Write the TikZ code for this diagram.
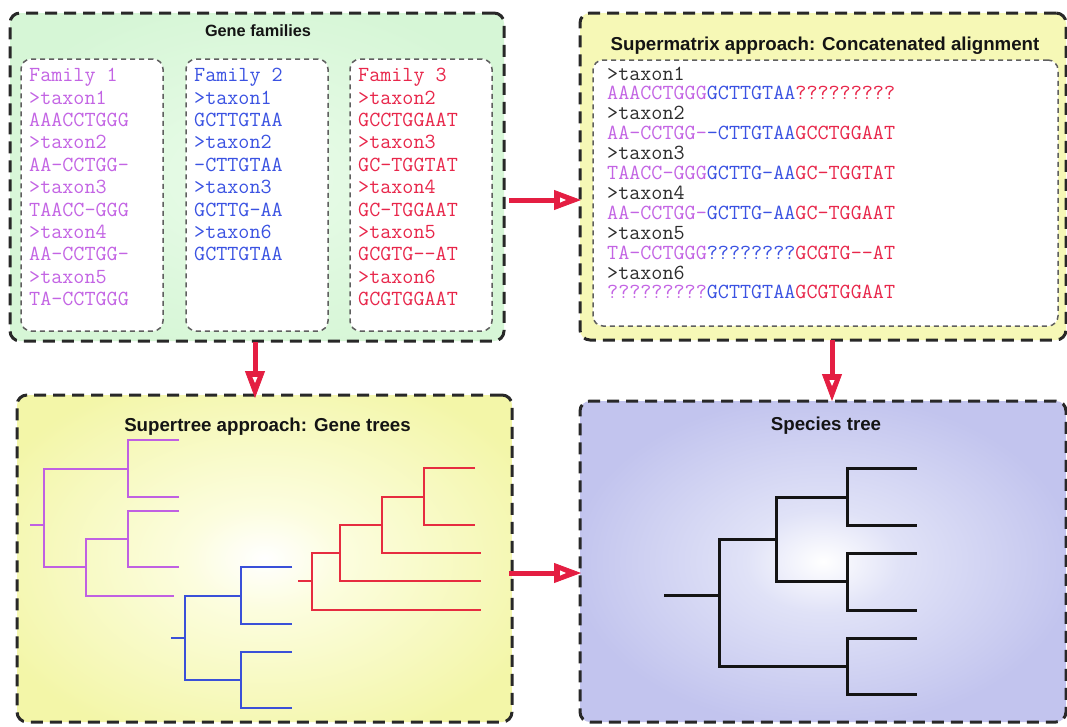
\documentclass[tikz,border=0pt]{standalone}
\usepackage{fontspec}
\newfontfamily\hel{Liberation Sans}
\usetikzlibrary{arrows.meta,decorations.markings}
\definecolor{purp}{RGB}{195,100,228}
\definecolor{blu}{RGB}{58,82,226}
\definecolor{redc}{RGB}{232,38,74}
\definecolor{purT}{RGB}{192,96,226}
\definecolor{bluT}{RGB}{58,80,216}
\definecolor{redT}{RGB}{230,44,64}
\definecolor{arrred}{RGB}{228,30,66}
\definecolor{dashc}{RGB}{40,40,40}
\definecolor{indash}{RGB}{95,95,95}
\definecolor{hdr}{RGB}{45,45,45}
\definecolor{gEdge}{RGB}{214,246,214}
\definecolor{gMid}{RGB}{234,252,234}
\definecolor{yEdge}{RGB}{243,246,168}
\definecolor{yMid}{RGB}{252,253,222}
\definecolor{ySm}{RGB}{246,248,182}
\definecolor{bEdge}{RGB}{194,196,238}
\definecolor{bMid}{RGB}{224,226,247}
\definecolor{bCorner}{RGB}{210,213,244}
\pgfdeclareradialshading{greensh}{\pgfpoint{0bp}{0bp}}{color(0bp)=(gMid);color(28bp)=(gEdge);color(50bp)=(gEdge)}
\pgfdeclareradialshading{yellowsh}{\pgfpoint{0bp}{0bp}}{color(0bp)=(white);color(8bp)=(yMid);color(30bp)=(yEdge);color(50bp)=(yEdge)}
\pgfdeclareradialshading{bluesh}{\pgfpoint{0bp}{0bp}}{color(0bp)=(white);color(8bp)=(bMid);color(26bp)=(bEdge);color(42bp)=(bEdge);color(55bp)=(bCorner)}
\tikzset{
  outerbox/.style={draw=dashc, line width=3pt, dash pattern=on 12pt off 7pt,
    rounded corners=10pt, inner sep=0pt, outer sep=0pt},
  innerbox/.style={draw=indash, line width=1.5pt, dash pattern=on 5pt off 4pt,
    rounded corners=10pt, fill=white, inner sep=0pt, outer sep=0pt},
  seq/.style={font=\ttfamily\addfontfeatures{FakeBold=1.2}\fontsize{21.5pt}{22pt}\selectfont, anchor=base west, inner sep=0pt},
  ttl/.style={font=\hel\bfseries\fontsize{18.7pt}{20pt}\selectfont, text=black!92, anchor=base, inner sep=0pt},
  arr/.style={draw=arrred, line width=5pt,
    -{Triangle[length=27pt,width=20pt,line width=0.8pt]},
    decoration={markings, mark=at position 1 with {\fill[white] (-21,-2.6) -- (-21,2.6) -- (-15,0) -- cycle;}},
    postaction={decorate}},
  gtree/.style={line width=1.3pt},
  sptree/.style={line width=3pt, draw=black!92}
}
\begin{document}
\begin{tikzpicture}[x=1pt,y=-1pt]
\useasboundingbox (0,0) rectangle (1067,726);
\fill[white] (0,0) rectangle (1067,726);

% ---------- boxes ----------
\node[outerbox, shading=greensh, minimum width=494pt, minimum height=328pt] (gene) at (257,177) {};
\node[outerbox, fill=ySm, minimum width=486pt, minimum height=327pt] (smx) at (823,176.5) {};
\node[outerbox, shading=yellowsh, minimum width=495pt, minimum height=327pt] (stree) at (264.5,558.5) {};
\node[outerbox, shading=bluesh, minimum width=486pt, minimum height=321pt] (species) at (823,561.5) {};

\node[innerbox, minimum width=142pt, minimum height=272pt] (f1) at (92,195) {};
\node[innerbox, minimum width=142pt, minimum height=272pt] (f2) at (257,195) {};
\node[innerbox, minimum width=142pt, minimum height=272pt] (f3) at (421,195) {};
\node[innerbox, minimum width=465pt, minimum height=266pt] (smin) at (825.5,193) {};

% ---------- titles ----------
\node[ttl, font=\hel\bfseries\fontsize{16.3pt}{18pt}\selectfont] (tgene) at (258,36.7) {Gene families};
\node[ttl] (tsmx) at (825,50) {Supermatrix approach: Concatenated alignment};
\node[ttl] (tstree) at (267.5,431.5) {Supertree approach: Gene trees};
\node[ttl] (tspecies) at (826,430.5) {Species tree};

% ---------- gene families ----------
\foreach \t [count=\i from 0] in {Family 1, >taxon1, AAACCTGGG, >taxon2, AA-CCTGG-, >taxon3, TAACC-GGG, >taxon4, AA-CCTGG-, >taxon5, TA-CCTGGG}
  \node[seq, text=purp] (fa-\i) at (29,81.7+22.4*\i) {\t};
\foreach \t [count=\i from 0] in {Family 2, >taxon1, GCTTGTAA, >taxon2, -CTTGTAA, >taxon3, GCTTG-AA, >taxon6, GCTTGTAA}
  \node[seq, text=blu] (fb-\i) at (194,81.7+22.4*\i) {\t};
\foreach \t [count=\i from 0] in {Family 3, >taxon2, GCCTGGAAT, >taxon3, GC-TGGTAT, >taxon4, GC-TGGAAT, >taxon5, GCGTG-{}-AT, >taxon6, GCGTGGAAT}
  \node[seq, text=redc] (fc-\i) at (358,81.7+22.4*\i) {\t};

% ---------- supermatrix ----------
\node[seq, text=hdr] (sm1) at (607,80) {>taxon1};
\node[seq] (sm2) at (607,99.9) {\textcolor{purp}{AAACCTGGG}\textcolor{blu}{GCTTGTAA}\textcolor{redc}{?????????}};
\node[seq, text=hdr] (sm3) at (607,119.8) {>taxon2};
\node[seq] (sm4) at (607,139.7) {\textcolor{purp}{AA-CCTGG-}\textcolor{blu}{-CTTGTAA}\textcolor{redc}{GCCTGGAAT}};
\node[seq, text=hdr] (sm5) at (607,159.6) {>taxon3};
\node[seq] (sm6) at (607,179.5) {\textcolor{purp}{TAACC-GGG}\textcolor{blu}{GCTTG-AA}\textcolor{redc}{GC-TGGTAT}};
\node[seq, text=hdr] (sm7) at (607,199.4) {>taxon4};
\node[seq] (sm8) at (607,219.3) {\textcolor{purp}{AA-CCTGG-}\textcolor{blu}{GCTTG-AA}\textcolor{redc}{GC-TGGAAT}};
\node[seq, text=hdr] (sm9) at (607,239.2) {>taxon5};
\node[seq] (sm10) at (607,259.1) {\textcolor{purp}{TA-CCTGGG}\textcolor{blu}{????????}\textcolor{redc}{GCGTG-{}-AT}};
\node[seq, text=hdr] (sm11) at (607,279) {>taxon6};
\node[seq] (sm12) at (607,298.9) {\textcolor{purp}{?????????}\textcolor{blu}{GCTTGTAA}\textcolor{redc}{GCGTGGAAT}};

% ---------- gene trees ----------
\draw[gtree, purT] (179,440) -| (128,497) -- (179,497);
\draw[gtree, purT] (179,511) -| (128,567) -- (179,567);
\draw[gtree, purT] (128,469) -| (44,567) -- (86,567);
\draw[gtree, purT] (128,539) -| (86,596) -- (174,596);
\draw[gtree, purT] (30,525) -- (44,525);

\draw[gtree, bluT] (292,567) -| (241,624) -- (292,624);
\draw[gtree, bluT] (292,652) -| (241,708) -- (292,708);
\draw[gtree, bluT] (241,596) -| (185,680) -- (241,680);
\draw[gtree, bluT] (171,638) -- (185,638);

\draw[gtree, redT] (475,468) -| (424,525) -- (475,525);
\draw[gtree, redT] (424,497) -| (382,553) -- (481,553);
\draw[gtree, redT] (382,525) -| (340,581) -- (481,581);
\draw[gtree, redT] (340,553) -| (312,610) -- (481,610);
\draw[gtree, redT] (298,581) -- (312,581);

% ---------- species tree ----------
\draw[sptree] (917,468) -| (847,525) -- (917,525);
\draw[sptree] (917,553) -| (847,610) -- (917,610);
\draw[sptree] (917,638) -| (847,694) -- (917,694);
\draw[sptree] (847,497) -| (776,581) -- (847,581);
\draw[sptree] (776,539) -| (719,666) -- (847,666);
\draw[sptree] (664,595.5) -- (719,595.5);

% ---------- arrows ----------
\coordinate (ya) at (0,200);
\coordinate (yb) at (0,573);
\coordinate (xa) at (255,0);
\coordinate (xb) at (832,0);
\draw[arr] ([xshift=5pt]gene.east |- ya) -- ([xshift=1pt]smx.west |- ya);
\draw[arr] ([yshift=-1pt]xa |- gene.south) -- ([yshift=-3pt]xa |- stree.north);
\draw[arr] (xb |- smx.south) -- (xb |- species.north);
\draw[arr] ([xshift=-3pt]stree.east |- yb) -- ([xshift=1pt]species.west |- yb);
\end{tikzpicture}
\end{document}
